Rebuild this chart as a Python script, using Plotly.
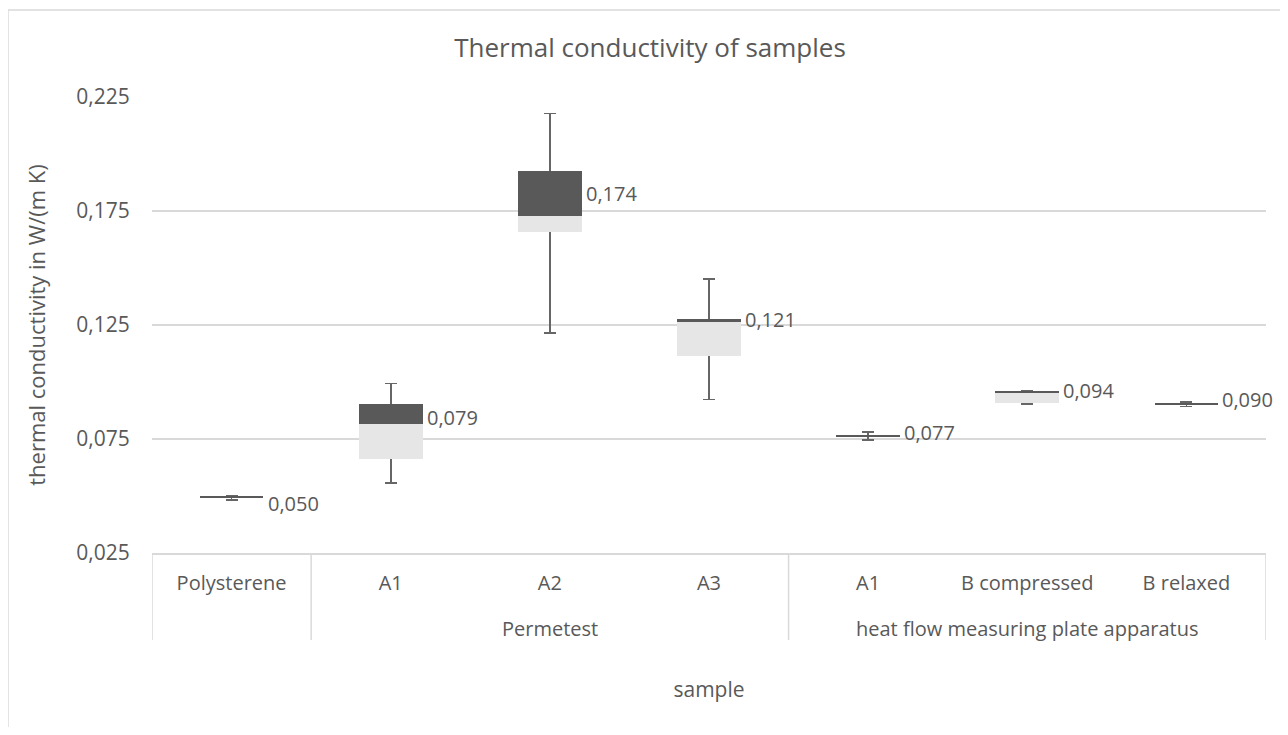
import plotly.graph_objects as go

# ---- data ----
groups = ["", "Permetest", "Permetest", "Permetest",
          "heat flow measuring plate apparatus",
          "heat flow measuring plate apparatus",
          "heat flow measuring plate apparatus"]
samples = ["Polysterene", "A1", "A2", "A3", "A1", "B compressed", "B relaxed"]
v_min = [0.0482, 0.0556, 0.1215, 0.0923, 0.0746, 0.0904, 0.0892]
v_q1 = [0.0492, 0.0662, 0.1657, 0.1114, 0.0763, 0.0907, 0.0902]
v_med = [0.0492, 0.0817, 0.1727, 0.1262, 0.0763, 0.0953, 0.0902]
v_q3 = [0.0496, 0.0905, 0.1924, 0.1275, 0.0769, 0.0958, 0.0908]
v_max = [0.0503, 0.0993, 0.2177, 0.1452, 0.0782, 0.0962, 0.0911]
labels = ["0,050", "0,079", "0,174", "0,121", "0,077", "0,094", "0,090"]
y_ticks = [0.025, 0.075, 0.125, 0.175, 0.225]

# ---- styling ----
FONT = "Open Sans"
TXT = "#595959"
GRID = "#d9d9d9"
DARK = "#595959"
LIGHT = "#e7e6e6"
label_yshift = [-6, -4, 0, 1, 3, 2, 4]
PLOT_H = 456  # plot-area height in px (for paper offsets)

idx = list(range(len(samples)))
half = [(hi - lo) / 2 for lo, hi in zip(v_min, v_max)]

fig = go.Figure()
# whiskers (drawn first so the boxes cover them)
fig.add_trace(go.Bar(
    x=idx, base=v_min, y=half, width=0.4,
    marker=dict(color="rgba(0,0,0,0)", line=dict(width=0)),
    error_y=dict(type="data", array=half, symmetric=True,
                 color="#666666", thickness=1.6, width=6),
    hoverinfo="skip", showlegend=False))
# lower box (Q1 -> median)
fig.add_trace(go.Bar(
    x=idx, base=v_q1, y=[m - q for m, q in zip(v_med, v_q1)], width=0.4,
    marker=dict(color=LIGHT, line=dict(width=0)), showlegend=False))
# upper box (median -> Q3)
fig.add_trace(go.Bar(
    x=idx, base=v_med, y=[q - m for q, m in zip(v_q3, v_med)], width=0.4,
    marker=dict(color=DARK, line=dict(width=0)), showlegend=False))

for i, t in enumerate(labels):
    fig.add_annotation(
        x=i, y=(v_med[i] + v_q3[i]) / 2, xref="x", yref="y",
        text=t, showarrow=False, xanchor="left", yanchor="middle",
        xshift=34, yshift=label_yshift[i],
        font=dict(family=FONT, size=20, color=TXT))

# group labels and dividers of the category axis
div_bottom = -87 / PLOT_H
start = 0
bounds = [-0.5]
for i in range(1, len(groups) + 1):
    if i == len(groups) or groups[i] != groups[start]:
        if groups[start]:
            fig.add_annotation(
                x=(start + i - 1) / 2, y=0, xref="x", yref="paper",
                text=groups[start], showarrow=False,
                xanchor="center", yanchor="middle", yshift=-75,
                font=dict(family=FONT, size=20, color=TXT))
        bounds.append(i - 0.5)
        start = i
for b in bounds:
    fig.add_shape(type="line", xref="x", yref="paper",
                  x0=b, x1=b, y0=0, y1=div_bottom,
                  line=dict(color=GRID, width=1.5))

# partial chart-area border (left and top edge)
fig.add_shape(type="line", xref="paper", yref="paper",
              x0=-0.1293, x1=1.05, y0=1.1908, y1=1.1908,
              line=dict(color=GRID, width=1.5))
fig.add_shape(type="line", xref="paper", yref="paper",
              x0=-0.1293, x1=-0.1293, y0=1.1908, y1=-0.5,
              line=dict(color=GRID, width=1.5))

fig.update_layout(
    width=1272, height=719,
    margin=dict(l=144, r=14, t=89, b=174),
    paper_bgcolor="white", plot_bgcolor="white",
    barmode="overlay", bargap=0,
    separators=", ",
    font=dict(family=FONT, color=TXT, size=20),
    title=dict(text="Thermal conductivity of samples",
               x=0.5047, xanchor="center", y=0.9444, yanchor="middle",
               font=dict(family=FONT, size=26, color=TXT)),
)
fig.update_xaxes(
    range=[-0.5, len(samples) - 0.5], tickvals=idx, ticktext=samples,
    showgrid=False, zeroline=False,
    showline=True, linecolor=GRID, linewidth=1.5,
    ticks="outside", ticklen=11, tickcolor="rgba(0,0,0,0)",
    tickfont=dict(family=FONT, size=20, color=TXT),
    title=dict(text="sample", font=dict(family=FONT, size=21, color=TXT), standoff=88),
)
fig.update_yaxes(
    range=[0.025, 0.225], tickvals=y_ticks, tickformat=".3f",
    showgrid=True, gridcolor=GRID, gridwidth=1.5,
    zeroline=False, showline=False,
    ticks="outside", ticklen=17, tickcolor="rgba(0,0,0,0)",
    tickfont=dict(family=FONT, size=21, color=TXT),
    title=dict(text="thermal conductivity in W/(m K)",
               font=dict(family=FONT, size=22, color=TXT), standoff=24),
)

fig.write_html("out.html")
